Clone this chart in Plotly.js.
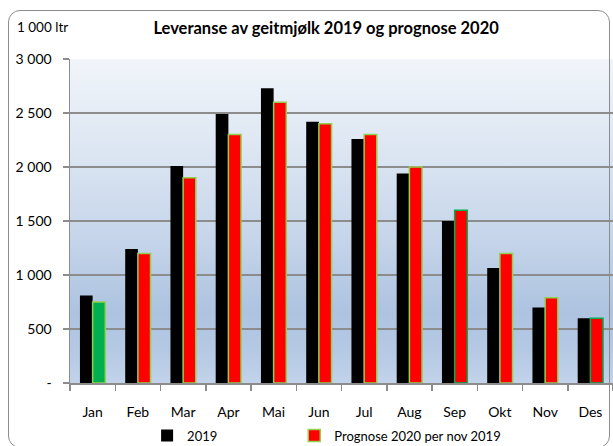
<!DOCTYPE html>
<html>
<head>
<meta charset="utf-8">
<script src="https://cdn.plot.ly/plotly-3.0.1.min.js"></script>
<style>
  html, body { margin: 0; padding: 0; background: #ffffff; overflow: hidden; }
  #wrap { position: relative; width: 613px; height: 446px; }
  #bg { position: absolute; left: 70px; top: 59px; width: 543px; height: 324px;
        background: linear-gradient(to bottom, #f1f5fa 0%, #dbe5f2 30%, #c6d5ea 55%, #adc3e0 78%, #b5c9e4 90%, #c2d3ea 100%); }
  #chart { position: absolute; left: 0; top: 0; width: 613px; height: 446px; }
  #frame { position: absolute; left: 8px; top: 10px; width: 600px; height: 436px;
           border: 1.5px solid #8c8c8c; border-radius: 12px; pointer-events: none; }
</style>
</head>
<body>
<div id="wrap">
  <div id="bg"></div>
  <div id="chart"></div>
  <div id="frame"></div>
</div>
<script>
const months = ["Jan", "Feb", "Mar", "Apr", "Mai", "Jun", "Jul", "Aug", "Sep", "Okt", "Nov", "Des"];
const values2019 = [810, 1240, 2010, 2490, 2730, 2420, 2260, 1940, 1500, 1065, 700, 600];
const prognose2020 = [750, 1200, 1900, 2300, 2600, 2400, 2300, 2000, 1600, 1200, 790, 600];
const prognoseFill = ["#00b050", "#ff0000", "#ff0000", "#ff0000", "#ff0000", "#ff0000", "#ff0000", "#ff0000", "#ff0000", "#ff0000", "#ff0000", "#ff0000"];
const prognoseBorder = ["#92d050", "#92d050", "#92d050", "#92d050", "#92d050", "#92d050", "#92d050", "#92d050", "#00b050", "#92d050", "#92d050", "#00b050"];
const yTickVals = [0, 500, 1000, 1500, 2000, 2500, 3000];
const yTickText = ["-", "500", "1 000", "1 500", "2 000", "2 500", "3 000"];

const FONT = "Lato, 'Liberation Sans', Arial, sans-serif";

// Jan forecast bar is drawn green; the rest red. Both share one offset group.
const traces = [
  {
    type: "bar", name: "2019", x: months, y: values2019,
    offsetgroup: "a", legend: "legend",
    marker: { color: "#000000", line: { color: "#000000", width: 0 } },
    hoverinfo: "x+y"
  },
  {
    type: "bar", name: "Prognose 2020 per nov 2019",
    x: months.slice(1), y: prognose2020.slice(1),
    offsetgroup: "b", legend: "legend2", legendgroup: "p",
    marker: { color: prognoseFill.slice(1), line: { color: prognoseBorder.slice(1), width: 1.5 } },
    hoverinfo: "x+y"
  },
  {
    type: "bar", name: "Prognose 2020 per nov 2019",
    x: months.slice(0, 1), y: prognose2020.slice(0, 1),
    offsetgroup: "b", legendgroup: "p", showlegend: false,
    marker: { color: prognoseFill.slice(0, 1), line: { color: prognoseBorder.slice(0, 1), width: 1.5 } },
    hoverinfo: "x+y"
  }
];

const legendBase = {
  orientation: "h",
  xanchor: "left",
  y: -0.162, yanchor: "middle",
  font: { family: FONT, size: 13, color: "#000000" },
  bgcolor: "rgba(0,0,0,0)",
  itemwidth: 30
};

const layout = {
  width: 613, height: 446,
  margin: { l: 70, r: 0, t: 59, b: 63, autoexpand: false },
  paper_bgcolor: "rgba(0,0,0,0)",
  plot_bgcolor: "rgba(0,0,0,0)",
  font: { family: FONT, color: "#000000", size: 13 },
  title: {
    text: "<b>Leveranse av geitmjølk 2019 og prognose 2020</b>",
    font: { family: FONT, size: 16.5, color: "#000000" },
    xref: "container", yref: "container",
    x: 0.532, xanchor: "center", y: 0.937, yanchor: "middle"
  },
  barmode: "group",
  bargap: 0.44,
  bargroupgap: 0,
  showlegend: true,
  legend: Object.assign({}, legendBase, { x: 0.142 }),
  legend2: Object.assign({}, legendBase, { x: 0.413 }),
  xaxis: {
    type: "category",
    categoryorder: "array", categoryarray: months,
    showline: true, linecolor: "#8c8c8c", linewidth: 1.5,
    ticks: "outside", tickson: "boundaries", ticklen: 6, tickcolor: "#8c8c8c", tickwidth: 1.5,
    tickfont: { family: FONT, size: 14, color: "#000000" },
    ticklabelstandoff: 16,
    showgrid: false, fixedrange: true
  },
  yaxis: {
    range: [0, 3000],
    tickvals: yTickVals, ticktext: yTickText,
    showline: true, linecolor: "#8c8c8c", linewidth: 1.5,
    ticks: "outside", ticklen: 6, tickcolor: "#8c8c8c", tickwidth: 1.5,
    ticklabelstandoff: 8,
    tickfont: { family: FONT, size: 14, color: "#000000" },
    showgrid: true, gridcolor: "#8c8c8c", gridwidth: 1.5,
    zeroline: false, fixedrange: true
  },
  annotations: [
    {
      text: "1 000 ltr", xref: "paper", yref: "paper",
      x: -0.1013, xanchor: "left", y: 1.0988, yanchor: "middle",
      showarrow: false, font: { family: FONT, size: 13.5, color: "#000000" }
    }
  ]
};

Plotly.newPlot("chart", traces, layout, { displayModeBar: false, staticPlot: true });
</script>
</body>
</html>
